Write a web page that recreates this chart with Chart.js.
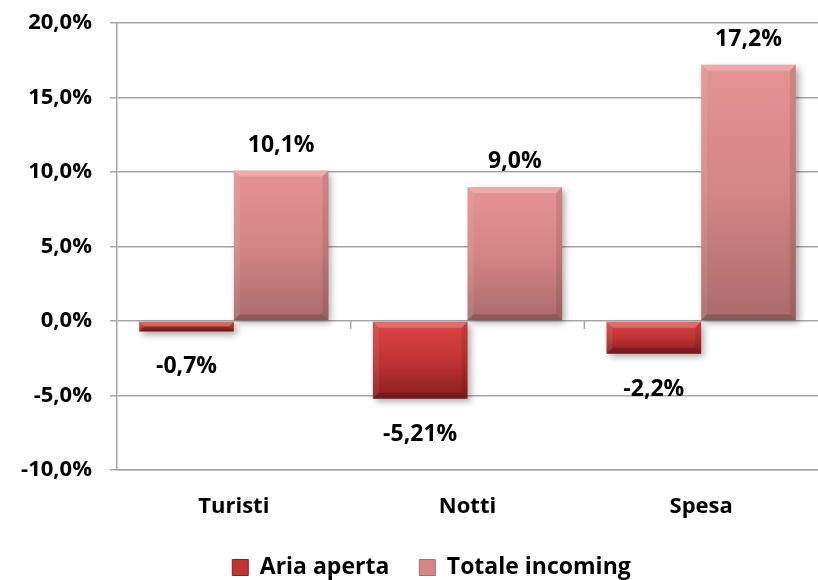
<!DOCTYPE html>
<html>
<head>
<meta charset="utf-8">
<script src="https://cdn.jsdelivr.net/npm/chart.js@4.4.0/dist/chart.umd.min.js"></script>
<style>
  html, body { margin: 0; padding: 0; background: #ffffff; }
  #wrap { width: 818px; height: 580px; }
</style>
</head>
<body>
<div id="wrap"><canvas id="c" width="818" height="580"></canvas></div>
<script>
const categories = ["Turisti", "Notti", "Spesa"];
const ariaAperta = [-0.7, -5.21, -2.2];
const totaleIncoming = [10.1, 9.0, 17.2];
const seriesNames = ["Aria aperta", "Totale incoming"];
const yMin = -10, yMax = 20, yStep = 5;

const FONT = "'Open Sans', Lato, sans-serif";

function fmtTick(v) { return v.toFixed(1).replace('.', ',') + '%'; }
function fmtLabel(v) {
  const s = Number.isInteger(v) ? v.toFixed(1) : String(v);
  return s.replace('.', ',') + '%';
}

const palettes = [
  { top: '#dc4646', mid: '#c13434', bot: '#8a1f1f', solid: '#c13434' },
  { top: '#e59494', mid: '#d48585', bot: '#aa6b6b', solid: '#d48585' }
];

function barGradient(ctx, dsIndex) {
  const chart = ctx.chart;
  const p = palettes[dsIndex];
  if (!chart.chartArea || !chart.scales.y || ctx.type !== 'data') return p.solid;
  const y = chart.scales.y;
  const v = ctx.raw;
  const a = y.getPixelForValue(Math.max(v, 0));
  const b = y.getPixelForValue(Math.min(v, 0));
  if (!isFinite(a) || !isFinite(b) || a === b) return p.solid;
  const g = chart.ctx.createLinearGradient(0, a, 0, b);
  g.addColorStop(0, p.top);
  g.addColorStop(0.5, p.mid);
  g.addColorStop(1, p.bot);
  return g;
}

const shadowPlugin = {
  id: 'shadow',
  beforeDatasetsDraw(chart) {
    const c = chart.ctx;
    c.save();
    c.shadowColor = 'rgba(0,0,0,0.35)';
    c.shadowBlur = 7;
    c.shadowOffsetX = 3;
    c.shadowOffsetY = 3;
  },
  afterDatasetsDraw(chart) {
    chart.ctx.restore();
    const c = chart.ctx;
    chart.data.datasets.forEach((ds, di) => {
      const meta = chart.getDatasetMeta(di);
      meta.data.forEach((bar) => {
        const left = bar.x - bar.width / 2, right = bar.x + bar.width / 2;
        const top = Math.min(bar.y, bar.base), bottom = Math.max(bar.y, bar.base);
        const h = bottom - top;
        const bw = Math.min(6, h / 2);
        c.save();
        c.fillStyle = 'rgba(255,255,255,0.22)';
        c.beginPath();
        c.moveTo(left, top); c.lineTo(right, top);
        c.lineTo(right - bw, top + bw); c.lineTo(left + bw, top + bw);
        c.closePath(); c.fill();
        c.fillStyle = 'rgba(255,255,255,0.08)';
        c.beginPath();
        c.moveTo(left, top); c.lineTo(left + bw, top + bw);
        c.lineTo(left + bw, bottom - bw); c.lineTo(left, bottom);
        c.closePath(); c.fill();
        c.fillStyle = 'rgba(0,0,0,0.10)';
        c.beginPath();
        c.moveTo(right, top); c.lineTo(right - bw, top + bw);
        c.lineTo(right - bw, bottom - bw); c.lineTo(right, bottom);
        c.closePath(); c.fill();
        c.fillStyle = 'rgba(0,0,0,0.18)';
        c.beginPath();
        c.moveTo(left, bottom); c.lineTo(right, bottom);
        c.lineTo(right - bw, bottom - bw); c.lineTo(left + bw, bottom - bw);
        c.closePath(); c.fill();
        c.restore();
      });
    });
  }
};

const labelPlugin = {
  id: 'valueLabels',
  afterDatasetsDraw(chart) {
    const c = chart.ctx;
    c.save();
    c.font = "bold 23px " + FONT;
    c.fillStyle = '#000';
    c.textAlign = 'center';
    c.textBaseline = 'alphabetic';
    chart.data.datasets.forEach((ds, di) => {
      const meta = chart.getDatasetMeta(di);
      meta.data.forEach((bar, i) => {
        const v = ds.data[i];
        const txt = fmtLabel(v);
        if (v >= 0) c.fillText(txt, bar.x, bar.y - 19);
        else c.fillText(txt, bar.x, bar.y + 42);
      });
    });
    c.restore();
  }
};

const zeroTicksPlugin = {
  id: 'zeroTicks',
  afterDraw(chart) {
    const x = chart.scales.x, y = chart.scales.y;
    const c = chart.ctx;
    const y0 = y.getPixelForValue(0);
    c.save();
    c.strokeStyle = '#a6a6a6';
    c.lineWidth = 1.5;
    for (let i = 1; i < categories.length; i++) {
      const px = (x.getPixelForTick(i - 1) + x.getPixelForTick(i)) / 2;
      c.beginPath();
      c.moveTo(px, y0);
      c.lineTo(px, y0 + 8);
      c.stroke();
    }
    c.restore();
  }
};

// Centre the legend under the plot rather than under the whole canvas
const legendShift = {
  id: 'legendShift',
  afterLayout(chart) {
    const lg = chart.legend;
    if (!lg) return;
    const dx = (chart.chartArea.left + chart.chartArea.right) / 2 - (lg.left + lg.right) / 2 - 36;
    lg.left += dx;
    lg.right += dx;
    if (lg.legendHitBoxes) lg.legendHitBoxes.forEach(h => { h.left += dx; });
  }
};

new Chart(document.getElementById('c'), {
  type: 'bar',
  data: {
    labels: categories,
    datasets: [
      { label: seriesNames[0], data: ariaAperta,
        backgroundColor: (ctx) => barGradient(ctx, 0) },
      { label: seriesNames[1], data: totaleIncoming,
        backgroundColor: (ctx) => barGradient(ctx, 1) }
    ]
  },
  options: {
    responsive: false,
    animation: false,
    devicePixelRatio: 1,
    layout: { padding: { top: 23, right: 0, left: 0, bottom: -9 } },
    datasets: { bar: { barPercentage: 1.0, categoryPercentage: 0.81 } },
    scales: {
      x: {
        afterFit(scale) { scale.height = 56; scale.paddingLeft = 0; scale.paddingRight = 0; },
        grid: { display: false },
        border: { display: true, color: '#a6a6a6', width: 1.5 },
        ticks: { color: '#000', font: { family: FONT, size: 22, weight: 'bold' }, padding: 16 }
      },
      y: {
        min: yMin, max: yMax,
        afterFit(scale) { scale.width = 117; scale.paddingTop = 0; scale.paddingBottom = 0; },
        grid: { color: '#a6a6a6', lineWidth: 1.5, tickLength: 7, drawTicks: true },
        border: { display: true, color: '#a6a6a6', width: 1.5 },
        ticks: {
          stepSize: yStep,
          color: '#000',
          padding: 18,
          font: { family: FONT, size: 22, weight: 'bold' },
          callback: (v) => fmtTick(v)
        }
      }
    },
    plugins: {
      legend: {
        position: 'bottom',
        labels: {
          color: '#000',
          boxWidth: 16, boxHeight: 16,
          padding: 30,
          font: { family: FONT, size: 23, weight: 'bold' },
          generateLabels(chart) {
            return chart.data.datasets.map((ds, i) => ({
              text: ds.label,
              fillStyle: palettes[i].solid,
              strokeStyle: palettes[i].bot,
              lineWidth: 1,
              datasetIndex: i,
              fontColor: '#000'
            }));
          }
        }
      },
      tooltip: { enabled: false }
    }
  },
  plugins: [shadowPlugin, labelPlugin, zeroTicksPlugin, legendShift]
});
</script>
</body>
</html>
